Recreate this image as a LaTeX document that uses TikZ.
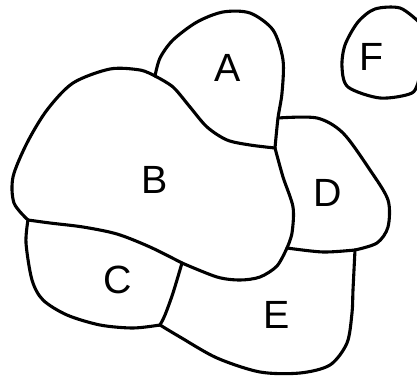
\documentclass[tikz,border=0pt]{standalone}
\usepackage{fontspec}
\setsansfont{Liberation Sans}
\usepackage{tikz}

\tikzset{
  edge/.style={line width=2.2pt, line cap=round, line join=round},
  region/.style={font=\sffamily\fontsize{28}{32}\selectfont},
}

\begin{document}
\begin{tikzpicture}[x=0.025cm, y=-0.025cm]
  \useasboundingbox (0,0) rectangle (417,376);

  % junctions where three regions meet
  \coordinate (jAB) at (155,76);
  \coordinate (jABD) at (275,148);
  \coordinate (jAD) at (278,118);
  \coordinate (jBC) at (28,220);
  \coordinate (jBCE) at (182,263);
  \coordinate (jBDE) at (287,248);
  \coordinate (jDE) at (355,250);
  \coordinate (jCE) at (160,325);

  % A
  \draw[edge] plot[smooth] coordinates {(jAB) (160,58) (173,40) (197,22) (223,12) (250,13) (273,30) (283,60) (282,93) (jAD) (jABD)};
  \draw[edge] plot[smooth] coordinates {(jAB) (173,87) (190,107) (207,127) (227,140) (250,145) (jABD)};

  % B
  \draw[edge] plot[smooth] coordinates {(jAB) (140,70) (110,69) (73,83) (47,110) (27,143) (13,177) (14,203) (jBC)};
  \draw[edge] plot[smooth] coordinates {(jBC) (50,223) (83,227) (117,234) (150,247) (jBCE)};
  \draw[edge] plot[smooth] coordinates {(jBCE) (217,277) (240,280) (260,277) (277,266) (jBDE)};
  \draw[edge] plot[smooth] coordinates {(jABD) (283,177) (293,207) (292,233) (jBDE)};

  % D
  \draw[edge] plot[smooth] coordinates {(jAD) (317,118) (343,133) (370,170) (388,200) (388,227) (377,243) (jDE)};
  \draw[edge] plot[smooth] coordinates {(jBDE) (323,252) (jDE)};

  % E
  \draw[edge] plot[smooth] coordinates {(jDE) (353,290) (352,313) (347,343) (330,365) (300,373) (260,372) (217,358) (180,337) (jCE)};

  % C
  \draw[edge] plot[smooth] coordinates {(jBCE) (173,293) (165,315) (jCE)};
  \draw[edge] plot[smooth] coordinates {(jBC) (26,243) (32,280) (43,300) (67,315) (100,325) (133,328) (jCE)};

  % F
  \draw[edge] plot[smooth] coordinates {(419,78) (412,93) (380,98) (348,87) (342,67) (345,45) (358,22) (375,9) (400,8) (419,22)};

  % labels
  \node[region] (labA) at (228,68) {A};
  \node[region] (labB) at (155,180) {B};
  \node[region] (labC) at (118,280) {C};
  \node[region] (labD) at (328,193) {D};
  \node[region] (labE) at (277,315) {E};
  \node[region] (labF) at (372,57) {F};
\end{tikzpicture}
\end{document}
